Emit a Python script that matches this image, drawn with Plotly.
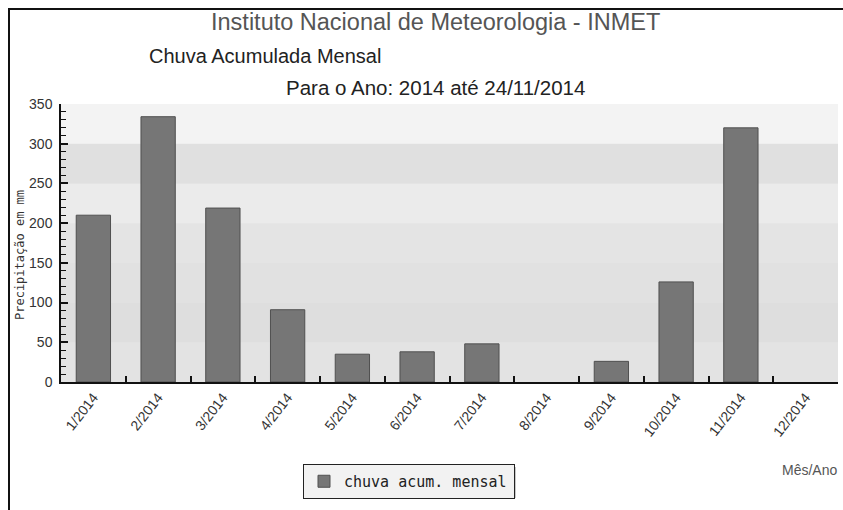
import plotly.graph_objects as go

# ---- data ----
months = ["1/2014", "2/2014", "3/2014", "4/2014", "5/2014", "6/2014",
          "7/2014", "8/2014", "9/2014", "10/2014", "11/2014", "12/2014"]
rain_mm = [210, 334, 219, 91, 35, 38, 48, 0, 26, 126, 320, 0]
series_name = "chuva acum. mensal"
y_ticks = [0, 50, 100, 150, 200, 250, 300, 350]
band_colors = ["#e3e3e3", "#dedede", "#e1e1e1", "#e4e4e4", "#ebebeb", "#e0e0e0", "#f3f3f3"]

W, H = 843, 510
PL, PR, PT, PB = 61, 838, 104, 382          # plot area in page pixels
L, R, T, B = PL, W - PR, PT, H - PB
PW, PH = PR - PL, PB - PT

def px(x):
    return (x - PL) / PW

def py(y):
    return (PB - y) / PH

fig = go.Figure()
fig.add_trace(go.Bar(
    x=months, y=rain_mm, name=series_name,
    marker=dict(color="#767676",
                line=dict(color="#505050", width=[1 if v > 0 else 0 for v in rain_mm])),
    width=0.53, showlegend=True,
))

shapes = []
for i, c in enumerate(band_colors):
    shapes.append(dict(type="rect", xref="paper", yref="y", x0=0, x1=1,
                       y0=y_ticks[i], y1=y_ticks[i + 1], fillcolor=c,
                       line=dict(width=0), layer="below"))
# legend shadow
shapes.append(dict(type="rect", xref="paper", yref="paper",
                   x0=px(306), x1=px(516), y0=py(467), y1=py(498),
                   fillcolor="#c8c8c8", line=dict(width=0), layer="below"))
# outer border (top and left)
shapes.append(dict(type="line", xref="paper", yref="paper",
                   x0=px(8), x1=px(845), y0=py(9), y1=py(9),
                   line=dict(color="#111", width=2)))
shapes.append(dict(type="line", xref="paper", yref="paper",
                   x0=px(9), x1=px(9), y0=py(8), y1=py(512),
                   line=dict(color="#111", width=2)))

annotations = [
    dict(text="Instituto Nacional de Meteorologia - INMET", x=px(435), y=py(22),
         xref="paper", yref="paper", showarrow=False, xanchor="center", yanchor="middle",
         font=dict(family="Arial, Liberation Sans", size=23.5, color="#555555")),
    dict(text="Chuva Acumulada Mensal", x=px(147), y=py(56),
         xref="paper", yref="paper", showarrow=False, xanchor="left", yanchor="middle",
         font=dict(family="Arial, Liberation Sans", size=20, color="#222222")),
    dict(text="Para o Ano: 2014 até 24/11/2014", x=px(435), y=py(88),
         xref="paper", yref="paper", showarrow=False, xanchor="center", yanchor="middle",
         font=dict(family="Arial, Liberation Sans", size=20.5, color="#222222")),
    dict(text="Precipitação em mm", x=px(20), y=py(255),
         xref="paper", yref="paper", showarrow=False, textangle=-90,
         xanchor="center", yanchor="middle",
         font=dict(family="DejaVu Sans Mono", size=12, color="#333333")),
    dict(text="Mês/Ano", x=px(839), y=py(470),
         xref="paper", yref="paper", showarrow=False, xanchor="right", yanchor="middle",
         font=dict(family="Arial, Liberation Sans", size=14, color="#555555")),
]

fig.update_layout(
    width=W, height=H,
    margin=dict(l=L, r=R, t=T, b=B, autoexpand=False),
    paper_bgcolor="white", plot_bgcolor="#e4e4e4",
    shapes=shapes, annotations=annotations,
    legend=dict(x=px(303), y=py(464), xanchor="left", yanchor="top",
                orientation="h", entrywidth=165, entrywidthmode="pixels",
                bgcolor="#f2f2f2", bordercolor="#222", borderwidth=1,
                font=dict(family="DejaVu Sans Mono", size=15, color="#222")),
    xaxis=dict(type="category", tickangle=-52, tickson="boundaries",
               ticks="inside", ticklen=6, tickcolor="#111", tickwidth=1.5,
               showline=True, linecolor="#111", linewidth=1.5,
               showgrid=False, zeroline=False,
               tickfont=dict(family="Arial, Liberation Sans", size=14, color="#333")),
    yaxis=dict(range=[0, 350], tickvals=y_ticks, ticks="inside", ticklen=7,
               tickcolor="#111", tickwidth=1.5,
               minor=dict(dtick=10, ticks="inside", ticklen=5, tickcolor="#111", tickwidth=1.2),
               showline=True, linecolor="#111", linewidth=1.5,
               showgrid=False, zeroline=False, ticklabelstandoff=4,
               tickfont=dict(family="Arial, Liberation Sans", size=14, color="#333")),
)

fig.write_html("out.html",
               config={"displayModeBar": False},
               post_script="document.body.style.margin='0';document.body.style.overflow='hidden';")
